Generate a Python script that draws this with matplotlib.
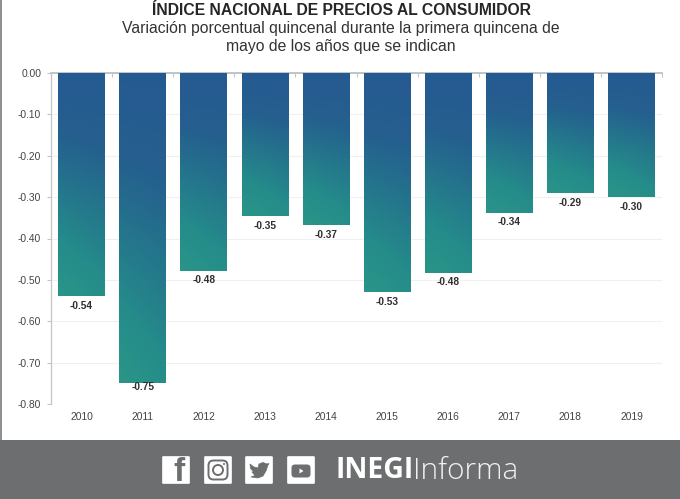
import numpy as np
import matplotlib
matplotlib.use("Agg")
import matplotlib.pyplot as plt
from matplotlib.colors import LinearSegmentedColormap
from matplotlib.patches import Rectangle, FancyBboxPatch, Circle, Polygon

years = ["2010", "2011", "2012", "2013", "2014", "2015", "2016", "2017", "2018", "2019"]
values = [-0.54, -0.75, -0.48, -0.35, -0.37, -0.53, -0.48, -0.34, -0.29, -0.30]
plot_values = [-0.539, -0.749, -0.478, -0.346, -0.368, -0.530, -0.483, -0.338, -0.291, -0.300]
yticks = [0, -0.1, -0.2, -0.3, -0.4, -0.5, -0.6, -0.7, -0.8]

W, H = 680, 499
plt.rcParams['font.family'] = ['Liberation Sans', 'DejaVu Sans']
fig = plt.figure(figsize=(W / 100, H / 100), dpi=100, facecolor='white')
ax = fig.add_axes([51 / W, 1 - 404 / H, (662 - 51) / W, (404 - 73) / H])
ax.set_xlim(-0.5, 9.5)
ax.set_ylim(-0.8, 0)

cmap = LinearSegmentedColormap.from_list('g', ['#255a91', '#255f8f', '#24778c', '#258c8a', '#2a9488'])
gy, gx = np.mgrid[0:1:200j, 0:1:40j]
grad = np.clip(gy ** 1.15 * (1.0 - 0.22 * gx) + 0.03, 0, 1)
for i, v in enumerate(plot_values):
    bar = ax.bar(i, v, width=0.763, color='none', zorder=2)[0]
    im = ax.imshow(grad, cmap=cmap, vmin=0, vmax=1, extent=(i - 0.3815, i + 0.3815, v, 0),
                   aspect='auto', origin='upper', zorder=2, interpolation='bilinear')
    im.set_clip_path(bar)
    offset = 0.023 if v > -0.7 else 0.0095
    ax.text(i, v - offset, f"{values[i]:.2f}", ha='center', va='center', fontsize=7.3,
            fontweight='bold', color='#2f2f2f', zorder=3)
ax.set_xlim(-0.5, 9.5)
ax.set_ylim(-0.8, 0)

ax.set_yticks(yticks)
ax.set_yticklabels([f"{t:.2f}" for t in yticks], fontsize=7.4, color='#444444')
ax.set_xticks(range(10))
ax.set_xticklabels(years, fontsize=7.4, color='#444444')
ax.tick_params(axis='y', length=3, width=0.8, color='#c4c4c4', pad=4)
ax.tick_params(axis='x', length=0, pad=6)
ax.grid(axis='y', color='#f0f0f0', lw=0.8, zorder=0)
ax.set_axisbelow(True)
for s in ['top', 'right', 'bottom']:
    ax.spines[s].set_visible(False)
ax.spines['left'].set_color('#c4c4c4')
ax.spines['left'].set_linewidth(0.9)
ax.axhline(0, color='#b2bec2', lw=1.2, zorder=1, clip_on=False)
top_axis = ax.secondary_xaxis('top')
top_axis.set_xticks(np.arange(-0.5, 10, 1))
top_axis.tick_params(direction='in', length=3, width=0.8, color='#c4c4c4', labeltop=False)
top_axis.spines['top'].set_visible(False)

def px(x, y):
    return x / W, 1 - y / H

fig.text(*px(341, 10.5), "ÍNDICE NACIONAL DE PRECIOS AL CONSUMIDOR", ha='center', va='center',
         fontsize=11.3, fontweight='bold', color='#262626')
fig.text(*px(340.5, 28.5), "Variación porcentual quincenal durante la primera quincena de", ha='center',
         va='center', fontsize=11.35, color='#333333')
fig.text(*px(340.5, 47), "mayo de los años que se indican", ha='center', va='center',
         fontsize=11.35, color='#333333')

# Page furniture in pixel coordinates
over = fig.add_axes([0, 0, 1, 1], zorder=5)
over.set_xlim(0, W)
over.set_ylim(H, 0)
over.axis('off')
over.patch.set_alpha(0)
over.add_patch(Rectangle((0, 0), 2, 440, color='#8f8f8f', lw=0))
over.add_patch(Rectangle((0, 440), W, 59, color='#6d6e70', lw=0))

icon_x = [162, 204, 245, 287]
top, size = 456, 28
for x in icon_x:
    over.add_patch(FancyBboxPatch((x + 0.5, top + 0.5), size - 1, size - 1,
                                  boxstyle='round,pad=0,rounding_size=1', fc='white', ec='white', lw=0.5))
over.text(icon_x[0] + 17, top + 16.5, "f", ha='center', va='center', fontsize=24,
          fontweight='bold', color='#6d6e70', clip_on=True)
cx, cy = icon_x[1] + 14, top + 14
over.add_patch(FancyBboxPatch((cx - 9.5, cy - 9.5), 19, 19, boxstyle='round,pad=0,rounding_size=5',
                              fc='none', ec='#6d6e70', lw=1.4))
over.add_patch(Circle((cx, cy), 5, fc='none', ec='#6d6e70', lw=1.4))
over.add_patch(Circle((cx + 6, cy - 6), 1, fc='#6d6e70', ec='none'))
bx, by = icon_x[2], top
bird = [(5, 8), (9, 11), (13, 12), (14, 8), (18, 6.5), (22, 8), (24, 7.5), (22.5, 10), (21.5, 14),
        (18, 20), (13, 22), (6, 21), (10, 19.5), (7, 16), (8.5, 15.5), (5.5, 12.5)]
over.add_patch(Polygon([(bx + a, by + b) for a, b in bird], closed=True, fc='#6d6e70', ec='#6d6e70',
                       lw=0.5, joinstyle='round'))
yx, yy = icon_x[3], top
over.add_patch(FancyBboxPatch((yx + 4.5, yy + 8.5), 19, 13, boxstyle='round,pad=0,rounding_size=3.5',
                              fc='#6d6e70', ec='none'))
over.add_patch(Polygon([(yx + 12.5, yy + 12.5), (yx + 12.5, yy + 17.5), (yx + 16.5, yy + 15)],
                       closed=True, fc='white', ec='none'))
over.text(336, 471, "INEGI", ha='left', va='center', fontsize=20.5, fontweight='bold',
          color='white', family='Open Sans')
over.text(413, 471, "Informa", ha='left', va='center', fontsize=21.5, color='#f2f2f2',
          family='Open Sans', fontweight='light')

fig.savefig('out.png', dpi=100, facecolor='white')
